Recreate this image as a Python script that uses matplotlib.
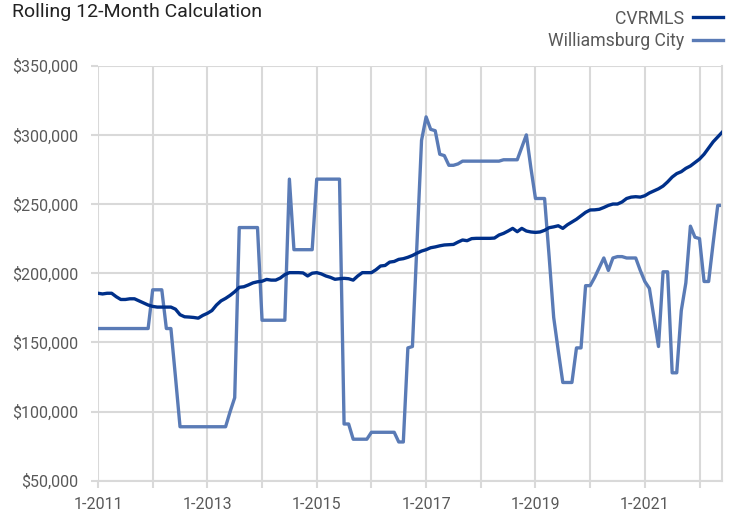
import numpy as np
import matplotlib.pyplot as plt

# monthly values, Jan 2011 .. Jun 2022 (thousands of dollars)
cvrmls = [
    185.5, 185.0, 185.5, 185.5, 183.0, 181.0, 181.0, 181.5, 181.5, 180.0, 178.5, 177.0,
    176.0, 175.5, 175.5, 175.5, 175.5, 174.0, 170.0, 168.5, 168.3, 168.0, 167.5, 169.5,
    171.0, 173.0, 177.0, 180.0, 181.8, 184.0, 186.6, 189.8, 190.2, 191.5, 193.0, 193.8,
    194.2, 195.5, 195.0, 195.0, 196.5, 199.0, 200.4, 200.4, 200.4, 200.2, 198.0, 200.0,
    200.4, 199.5, 198.0, 197.0, 195.6, 196.0, 196.3, 196.0, 195.0, 198.0, 200.4, 200.4,
    200.4, 202.5, 205.2, 205.6, 208.0, 208.5, 210.0, 210.5, 211.5, 212.8, 214.5, 216.0,
    217.0, 218.4, 219.0, 219.8, 220.4, 220.6, 220.8, 222.5, 224.0, 223.5, 225.0, 225.2,
    225.2, 225.2, 225.2, 225.4, 227.6, 228.8, 230.5, 232.4, 230.0, 232.4, 230.5, 229.8,
    229.5, 229.8, 231.0, 232.9, 233.5, 234.3, 232.4, 235.0, 237.0, 239.0, 241.5, 244.0,
    245.7, 245.8, 246.2, 247.5, 249.0, 250.0, 250.0, 251.5, 254.0, 255.0, 255.3, 255.0,
    256.0, 258.0, 259.5, 261.0, 263.0, 266.0, 269.5, 272.0, 273.4, 275.8, 277.5, 280.0,
    282.5, 286.0, 290.5, 295.0, 298.5, 302.0,
]
williamsburg = [
    160, 160, 160, 160, 160, 160, 160, 160, 160, 160, 160, 160,
    188, 188, 188, 160, 160, 125, 89, 89, 89, 89, 89, 89,
    89, 89, 89, 89, 89, 100, 110, 233, 233, 233, 233, 233,
    166, 166, 166, 166, 166, 166, 268, 217, 217, 217, 217, 217,
    268, 268, 268, 268, 268, 268, 91, 91, 80, 80, 80, 80,
    85, 85, 85, 85, 85, 85, 78, 78, 146, 147, 221, 296,
    313, 304, 303, 286, 285, 278, 278, 279, 281, 281, 281, 281,
    281, 281, 281, 281, 281, 282, 282, 282, 282, 291, 300, 276,
    254, 254, 254, 212, 168, 144, 121, 121, 121, 146, 146, 191,
    191, 197, 204, 211, 202, 211, 212, 212, 211, 211, 211, 202,
    194, 189, 168, 147, 201, 201, 128, 128, 173, 193, 234, 226,
    225, 194, 194, 222, 249, 249,
]
series_names = ["CVRMLS", "Williamsburg City"]
tick_years = [2011, 2013, 2015, 2017, 2019, 2021]
y_ticks = [50000, 100000, 150000, 200000, 250000, 300000, 350000]

months = np.arange(len(cvrmls))
c_vals = np.array(cvrmls) * 1000
w_vals = np.array(williamsburg) * 1000

plt.rcParams['font.family'] = ['Roboto', 'DejaVu Sans']
grid_c = '#d9d9d9'
text_c = '#595959'

fig = plt.figure(figsize=(7.32, 5.15), dpi=100)
ax = fig.add_axes([98 / 732, 1 - 480.7 / 515, (722.3 - 98) / 732, (480.7 - 65.7) / 515])

ax.plot(months, c_vals, color='#00308a', lw=2.4, label=series_names[0], zorder=3,
        solid_joinstyle='round')
ax.plot(months, w_vals, color='#5a7bb6', lw=2.4, label=series_names[1], zorder=2,
        solid_joinstyle='round')

ax.set_xlim(0, len(cvrmls) - 1)
ax.set_ylim(50000, 350000)
ax.set_yticks(y_ticks)
ax.set_yticklabels(['${:,}'.format(v) for v in y_ticks])
ax.set_xticks([(y - 2011) * 12 for y in tick_years])
ax.set_xticklabels(['1-{}'.format(y) for y in tick_years])
ax.set_xticks(np.arange(0, len(cvrmls), 12), minor=True)

ax.grid(True, which='major', color=grid_c, lw=1.5)
ax.grid(True, which='minor', axis='x', color=grid_c, lw=1.5)
ax.tick_params(which='both', length=5, width=1.5, color=grid_c, labelcolor=text_c,
               labelsize=11.5)
ax.tick_params(axis='x', which='both', pad=7)
ax.tick_params(axis='y', pad=9)
for s in ['top', 'left']:
    ax.spines[s].set_visible(False)
for s in ['bottom', 'right']:
    ax.spines[s].set_color(grid_c)
    ax.spines[s].set_linewidth(1.5)
ax.set_axisbelow(True)

fig.text(11.5 / 732, 1 - 3 / 515, 'Rolling 12-Month Calculation', ha='left', va='top',
         fontsize=14, color='#222222')

fig.legend(loc='upper right', bbox_to_anchor=(727 / 732, 1 - 6 / 515), frameon=False,
           markerfirst=False, fontsize=12.7, labelcolor=text_c, handlelength=1.75,
           handletextpad=0.47, labelspacing=0.25, borderpad=0.2, borderaxespad=0)

fig.savefig('out.png', dpi=100)
